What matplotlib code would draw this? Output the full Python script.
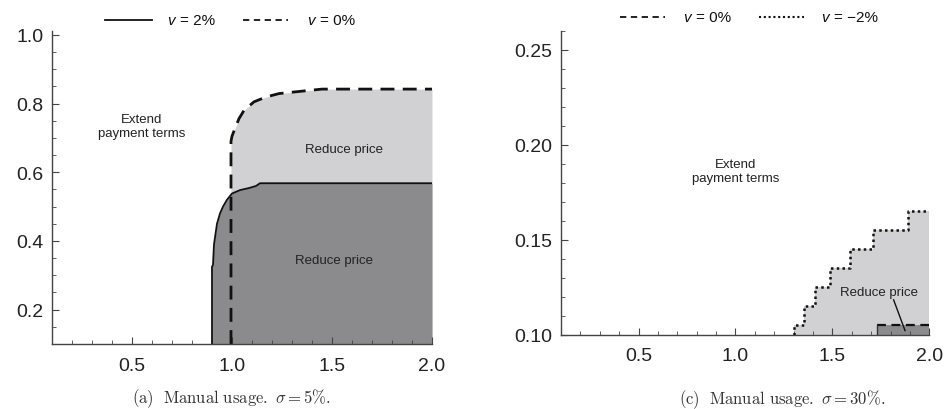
import numpy as np
import matplotlib.pyplot as plt
from matplotlib.ticker import MultipleLocator

plt.rcParams["font.family"] = ["Liberation Sans", "DejaVu Sans"]
plt.rcParams["mathtext.fontset"] = "cm"

LIGHT = "#d1d1d3"
DARK = "#8b8b8d"

# panel (a): sigma = 5%
a_solid_x = [0.9, 0.9, 0.905, 0.91, 0.915, 0.925, 0.94, 0.955, 0.975, 1.0, 1.04, 1.085, 1.12, 1.14, 2.0]
a_solid_y = [0.1, 0.325, 0.33, 0.39, 0.41, 0.45, 0.48, 0.50, 0.52, 0.538, 0.548, 0.554, 0.56, 0.568, 0.568]
a_dash_x = [0.995, 0.995, 1.0, 1.01, 1.035, 1.06, 1.11, 1.17, 1.235, 1.35, 1.45, 2.0]
a_dash_y = [0.1, 0.69, 0.705, 0.72, 0.756, 0.78, 0.805, 0.819, 0.829, 0.836, 0.842, 0.842]

# panel (c): sigma = 30%
c_dot_x = [1.3, 1.3, 1.355, 1.41, 1.49, 1.59, 1.71, 1.89, 2.0]
c_dot_y = [0.1, 0.105, 0.115, 0.125, 0.135, 0.145, 0.155, 0.165, 0.165]
c_dash_x = [1.73, 1.73, 2.0]
c_dash_y = [0.1, 0.105, 0.105]

fig = plt.figure(figsize=(9.44, 4.10), dpi=100)
ax1 = fig.add_axes([0.0551, 0.1585, 0.4025, 0.7625])
ax2 = fig.add_axes([0.5943, 0.1805, 0.3901, 0.7415])


def style(ax, xmin, ymaj, ymin):
    ax.spines["top"].set_visible(False)
    ax.spines["right"].set_visible(False)
    for s in ("left", "bottom"):
        ax.spines[s].set_color("#444444")
        ax.spines[s].set_linewidth(1.0)
    ax.xaxis.set_major_locator(MultipleLocator(0.5))
    ax.xaxis.set_minor_locator(MultipleLocator(xmin))
    ax.yaxis.set_major_locator(MultipleLocator(ymaj))
    ax.yaxis.set_minor_locator(MultipleLocator(ymin))
    ax.tick_params(which="both", direction="in", color="#444444")
    ax.tick_params(which="major", length=5, labelsize=14, labelcolor="#222222")
    ax.tick_params(axis="y", which="major", pad=6)
    ax.tick_params(axis="x", which="major", pad=9)
    ax.tick_params(which="minor", length=3)


# (a)
ax1.fill_between(a_dash_x, 0.1, a_dash_y, color=LIGHT, lw=0)
ax1.fill_between(a_solid_x, 0.1, a_solid_y, color=DARK, lw=0)
ax1.plot(a_solid_x, a_solid_y, color="#111111", lw=1.3)
ax1.plot(a_dash_x, a_dash_y, color="#111111", lw=2.0, dashes=(5, 3))
ax1.set_xlim(0.1, 2.0)
ax1.set_ylim(0.1, 1.01)
style(ax1, 0.1, 0.2, 0.05)
ax1.set_yticks([0.2, 0.4, 0.6, 0.8, 1.0])
ax1.set_xticks([0.5, 1.0, 1.5, 2.0])
ax1.text(0.55, 0.735, "Extend\npayment terms", ha="center", va="center", fontsize=9.5, color="#222222")
ax1.text(1.56, 0.668, "Reduce price", ha="center", va="center", fontsize=9.5, color="#222222")
ax1.text(1.51, 0.346, "Reduce price", ha="center", va="center", fontsize=9.5, color="#222222")

# (c)
ax2.fill_between(c_dot_x, 0.1, c_dot_y, step="post", color=LIGHT, lw=0)
ax2.fill_between(c_dash_x, 0.1, c_dash_y, color=DARK, lw=0)
ax2.step(c_dot_x, c_dot_y, where="post", color="#111111", lw=1.8, linestyle=(0, (1, 1.3)))
ax2.plot(c_dash_x[1:], c_dash_y[1:], color="#111111", lw=1.6, dashes=(4, 2.5))
ax2.plot(c_dash_x[:2], c_dash_y[:2], color="#333333", lw=1.0)
ax2.set_xlim(0.1, 2.0)
ax2.set_ylim(0.1, 0.26)
style(ax2, 0.1, 0.05, 0.01)
ax2.set_yticks([0.10, 0.15, 0.20, 0.25])
ax2.set_yticklabels(["0.10", "0.15", "0.20", "0.25"])
ax2.set_xticks([0.5, 1.0, 1.5, 2.0])
ax2.text(1.0, 0.1865, "Extend\npayment terms", ha="center", va="center", fontsize=9.5, color="#222222")
ax2.text(1.74, 0.1228, "Reduce price", ha="center", va="center", fontsize=9.5, color="#222222")
ax2.plot([1.816, 1.875], [0.1185, 0.1023], color="#111111", lw=1.0)


def legend_entry(x0, x1, y, tx, label, **line_kw):
    yf = 1 - y / 410
    fig.add_artist(plt.Line2D([x0 / 944, x1 / 944], [yf, yf], color="#111111", **line_kw))
    fig.text(tx / 944, yf, "v", style="italic", va="center", fontsize=11, color="#111111")
    fig.text((tx + 13) / 944, yf, label, va="center", fontsize=11, color="#111111")


legend_entry(105, 152, 21, 167, "= 2%", lw=1.3)
legend_entry(243, 288, 21, 307, "= 0%", lw=1.3, dashes=(3.5, 2.5))
legend_entry(620, 665, 18, 683, "= 0%", lw=1.3, dashes=(3.5, 2.5))
legend_entry(759, 804, 18, 821, "= \u22122%", lw=1.5, linestyle=(0, (1, 1.3)))

# captions
fig.text(232 / 944, 1 - 399 / 410, r"$\mathrm{(a)\ \ Manual\ usage.}\ \sigma = 5\%.$",
         ha="center", va="center", fontsize=12, color="#333333")
fig.text(782 / 944, 1 - 400 / 410, r"$\mathrm{(c)\ \ Manual\ usage.}\ \sigma = 30\%.$",
         ha="center", va="center", fontsize=12, color="#333333")

fig.savefig("out.png", dpi=100)
